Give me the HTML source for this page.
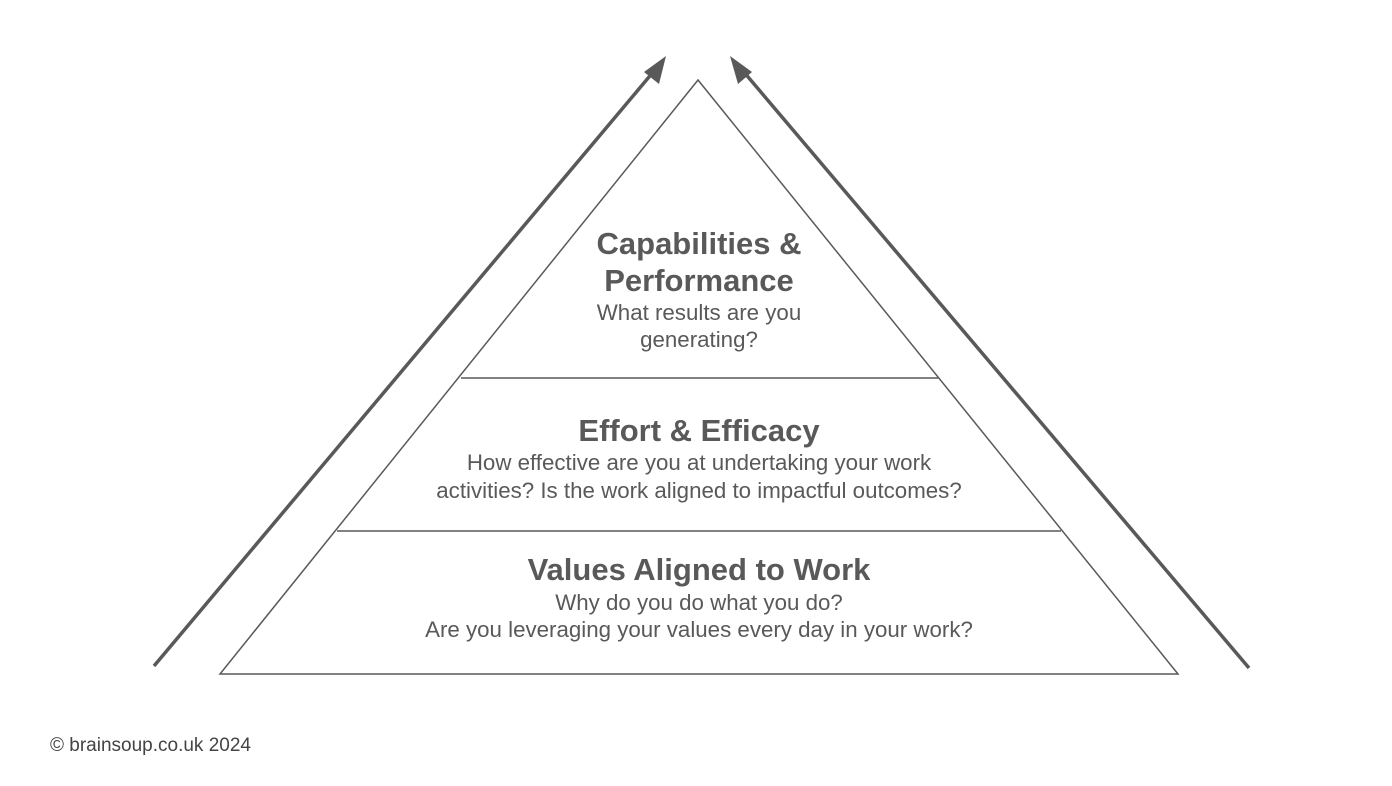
<!DOCTYPE html>
<html><head><meta charset="utf-8"><style>
html,body{margin:0;padding:0;background:#fff;}
svg{display:block;font-family:"Liberation Sans",Arial,sans-serif;}
</style></head><body>
<svg width="1392" height="786" viewBox="0 0 1392 786" xmlns="http://www.w3.org/2000/svg">
<polygon points="698,80 220,674 1178,674" fill="none" stroke="#595959" stroke-width="1.5"/>
<line x1="461" y1="378" x2="938" y2="378" stroke="#595959" stroke-width="1.5"/>
<line x1="337" y1="531" x2="1061" y2="531" stroke="#595959" stroke-width="1.5"/>
<line x1="154" y1="666" x2="654" y2="71" stroke="#595959" stroke-width="3.5"/>
<polygon points="666,56 644,72 659,84" fill="#595959"/>
<line x1="1249" y1="668" x2="743" y2="71" stroke="#595959" stroke-width="3.5"/>
<polygon points="730,56 738,84 752,72" fill="#595959"/>
<g fill="#595959" text-anchor="middle">
<text x="699" y="254" font-size="31" font-weight="bold">Capabilities &amp;</text>
<text x="699" y="291" font-size="31" font-weight="bold">Performance</text>
<text x="699" y="320" font-size="22.3">What results are you</text>
<text x="699" y="347" font-size="22.3">generating?</text>
<text x="699" y="441" font-size="31" font-weight="bold">Effort &amp; Efficacy</text>
<text x="699" y="470" font-size="22.3">How effective are you at undertaking your work</text>
<text x="699" y="498" font-size="22.3">activities? Is the work aligned to impactful outcomes?</text>
<text x="699" y="580" font-size="31" font-weight="bold">Values Aligned to Work</text>
<text x="699" y="610" font-size="22.3">Why do you do what you do?</text>
<text x="699" y="637" font-size="22.3">Are you leveraging your values every day in your work?</text>
</g>
<text x="50" y="751" font-size="19" fill="#444">© brainsoup.co.uk 2024</text>
</svg>
</body></html>
